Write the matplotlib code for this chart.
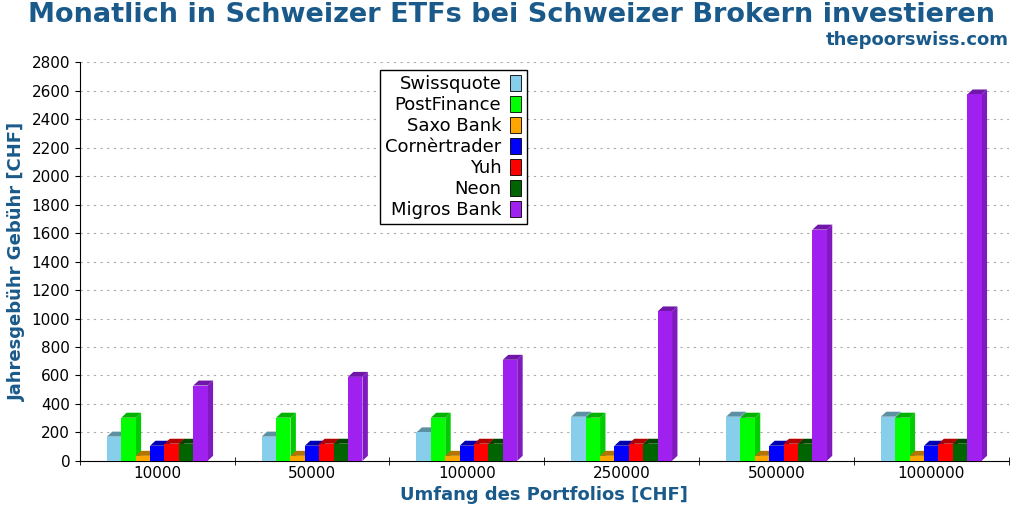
import numpy as np
import matplotlib.pyplot as plt
from matplotlib.patches import Polygon, Patch
import matplotlib.colors as mc

# Daten
portfolios = ['10000', '50000', '100000', '250000', '500000', '1000000']
brokers = ['Swissquote', 'PostFinance', 'Saxo Bank', 'Cornèrtrader', 'Yuh', 'Neon', 'Migros Bank']
swissquote = [170, 170, 200, 310, 310, 310]
postfinance = [303, 303, 303, 303, 303, 303]
saxo = [35, 35, 35, 35, 35, 35]
cornertrader = [106, 106, 106, 106, 106, 106]
yuh = [120, 120, 120, 120, 120, 120]
neon = [120, 120, 120, 120, 120, 120]
migros = [529, 590, 710, 1050, 1625, 2575]
series = [swissquote, postfinance, saxo, cornertrader, yuh, neon, migros]
colors = ['#87ceeb', '#00ff00', '#ffa500', '#0000ff', '#ff0000', '#006400', '#a020f0']

def darker(c, f=0.8):
    r, g, b = mc.to_rgb(c)
    return (r * f, g * f, b * f)

fig, ax = plt.subplots(figsize=(10.24, 5.12), dpi=100)
fig.subplots_adjust(left=0.078, right=0.985, top=0.878, bottom=0.1)

x = np.arange(len(portfolios))
w = 0.093
dx, dy = 0.035, 35
for i, (vals, c) in enumerate(zip(series, colors)):
    xs = x - 3.5 * w + i * w
    for xl, v in zip(xs, vals):
        # Seite und Deckel (3D-Effekt)
        ax.add_patch(Polygon([(xl + w, 0), (xl + w + dx, dy), (xl + w + dx, v + dy), (xl + w, v)],
                             closed=True, color=darker(c, 0.8), lw=0, zorder=3))
        ax.add_patch(Polygon([(xl, v), (xl + dx, v + dy), (xl + w + dx, v + dy), (xl + w, v)],
                             closed=True, color=darker(c, 0.7), lw=0, zorder=3))
        ax.add_patch(plt.Rectangle((xl, 0), w, v, color=c, lw=0, zorder=4))

ax.set_xlim(-0.5, len(portfolios) - 0.5)
ax.set_ylim(0, 2800)
ax.set_yticks(range(0, 2801, 200))
ax.set_xticks(x)
ax.set_xticklabels(portfolios)
ax.set_xticks(np.arange(-0.5, len(portfolios), 1), minor=True)
ax.tick_params(axis='x', which='major', length=0, labelsize=11)
ax.tick_params(axis='x', which='minor', length=6, direction='inout')
ax.tick_params(axis='y', labelsize=11)
ax.grid(axis='y', linestyle=(0, (2, 4)), color='#aaaaaa', lw=0.8)
ax.set_axisbelow(True)
for s in ['top', 'right']:
    ax.spines[s].set_visible(False)

blue = '#1a5a8a'
ax.set_xlabel('Umfang des Portfolios [CHF]', fontsize=13, fontweight='bold', color=blue)
ax.set_ylabel('Jahresgebühr Gebühr [CHF]', fontsize=13, fontweight='bold', color=blue)
fig.suptitle('Monatlich in Schweizer ETFs bei Schweizer Brokern investieren',
             fontsize=19.5, fontweight='bold', color=blue, y=0.997)
fig.text(0.985, 0.912, 'thepoorswiss.com', ha='right', fontsize=13, fontweight='bold', color=blue)

handles = [Patch(facecolor=c, edgecolor='black', lw=0.6) for c in colors]
ax.legend(handles, brokers, loc='upper left', bbox_to_anchor=(0.313, 1.005), fontsize=13,
          markerfirst=False, fancybox=False, edgecolor='black', framealpha=1,
          handlelength=0.6, handleheight=1.0, handletextpad=0.5, labelspacing=0.15,
          borderpad=0.3)

plt.savefig('out.png')
